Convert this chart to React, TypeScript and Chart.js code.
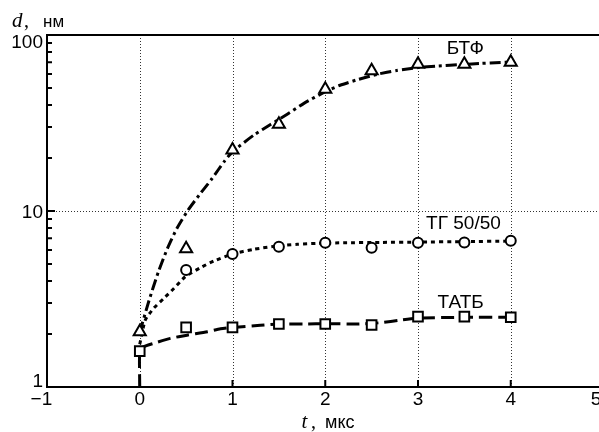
import React, { useEffect, useRef } from "react";
import { Chart, registerables } from "chart.js";

Chart.register(...registerables);

// ---- measured data (t, мкс ; d, нм) ----
const btfT = [0, 0.5, 1, 1.5, 2, 2.5, 3, 3.5, 4];
const btfD = [2.06, 6.1, 22.2, 31.1, 49.1, 62.7, 68.2, 68.2, 70.0];

const tgT = [0.5, 1, 1.5, 2, 2.5, 3, 3.5, 4];
const tgD = [4.62, 5.7, 6.27, 6.61, 6.19, 6.61, 6.63, 6.78];

const tatbT = [0, 0.5, 1, 1.5, 2, 2.5, 3, 3.5, 4];
const tatbD = [1.6, 2.18, 2.18, 2.28, 2.28, 2.25, 2.51, 2.51, 2.49];

// ---- fitted curves ----
const btfFitT = [0, 0.1, 0.2, 0.3, 0.4, 0.52, 0.64, 0.78, 0.91, 1.0, 1.23, 1.41, 1.59, 1.77, 2.0, 2.16, 2.36, 2.56, 2.77, 3.0, 3.2, 3.49, 3.67, 3.89, 4.0];
const btfFitD = [2.05, 3.1, 4.5, 6.15, 7.95, 10.1, 12.3, 15.3, 19.1, 21.7, 27.0, 31.0, 35.5, 40.9, 47.6, 51.8, 56.0, 59.8, 62.9, 65.3, 66.6, 68.0, 68.9, 69.8, 70.2];

const tgFitT = [0, 0.06, 0.15, 0.26, 0.37, 0.49, 0.65, 0.8, 1.0, 1.23, 1.48, 1.7, 1.91, 2.2, 2.6, 3.0, 3.5, 4.0];
const tgFitD = [1.75, 2.4, 2.8, 3.19, 3.64, 4.23, 4.75, 5.2, 5.7, 6.06, 6.33, 6.47, 6.55, 6.6, 6.63, 6.66, 6.7, 6.75];

const tatbFitT = [0, 0, 0.04, 0.15, 0.33, 0.51, 0.73, 0.87, 1.0, 1.3, 1.5, 1.8, 2.0, 2.34, 2.6, 2.81, 3.0, 3.5, 4.0];
const tatbFitD = [1, 1.6, 1.69, 1.77, 1.89, 1.97, 2.06, 2.14, 2.18, 2.24, 2.28, 2.28, 2.29, 2.28, 2.32, 2.4, 2.46, 2.49, 2.49];

// ---- axes ----
const xTicks = [-1, 0, 1, 2, 3, 4, 5];
const xGrid = [0, 1, 2, 3, 4];
const yTicks = [1, 10, 100];
const yGrid = [10];
const yMinor = [2, 3, 4, 5, 6, 7, 8, 9, 20, 30, 40, 50, 60, 70, 80, 90];

const seriesNames = ["БТФ", "ТГ 50/50", "ТАТБ"];

const pts = (xs: number[], ys: number[]) => xs.map((x, i) => ({ x, y: ys[i] }));

const SANS = '"Liberation Sans", Arial, Helvetica, sans-serif';
const SERIF = '"Liberation Serif", "Times New Roman", serif';

const overlay = {
  id: "overlay",
  beforeDatasetsDraw(chart: any) {
    const { ctx, chartArea: a, scales } = chart;
    const x = scales.x, y = scales.y;
    ctx.save();
    ctx.strokeStyle = "#333";
    ctx.lineWidth = 1;
    ctx.setLineDash([1, 2]);
    for (const v of xGrid) {
      const px = Math.round(x.getPixelForValue(v)) + 0.5;
      ctx.beginPath();
      ctx.moveTo(px, a.top);
      ctx.lineTo(px, a.bottom);
      ctx.stroke();
    }
    for (const v of yGrid) {
      const py = Math.round(y.getPixelForValue(v)) + 0.5;
      ctx.beginPath();
      ctx.moveTo(a.left, py);
      ctx.lineTo(a.right, py);
      ctx.stroke();
    }
    ctx.restore();
  },
  afterDatasetsDraw(chart: any) {
    const { ctx, chartArea: a, scales } = chart;
    const x = scales.x, y = scales.y;
    ctx.save();
    ctx.strokeStyle = "#000";
    ctx.fillStyle = "#000";
    ctx.lineWidth = 2;
    ctx.setLineDash([]);
    // frame
    ctx.strokeRect(a.left, a.top, a.right - a.left, a.bottom - a.top);
    // y ticks (inside, left)
    ctx.beginPath();
    for (const v of yMinor) {
      const py = y.getPixelForValue(v);
      ctx.moveTo(a.left, py);
      ctx.lineTo(a.left + 5, py);
    }
    for (const v of yTicks) {
      const py = y.getPixelForValue(v);
      ctx.moveTo(a.left, py);
      ctx.lineTo(a.left + 8, py);
    }
    // x ticks (inside)
    for (const v of xTicks) {
      const px = x.getPixelForValue(v);
      ctx.moveTo(px, a.bottom);
      ctx.lineTo(px, a.bottom - 7);
    }
    ctx.stroke();

    // tick labels
    ctx.font = `19px ${SANS}`;
    ctx.textBaseline = "middle";
    ctx.textAlign = "right";
    const h = a.bottom - a.top;
    for (const v of yTicks) {
      const py = y.getPixelForValue(v);
      const ly = py + 8 - (13 * (py - a.top)) / h;
      ctx.fillText(String(v), a.left - 4, ly);
    }
    for (const v of xTicks) {
      const px = Math.min(x.getPixelForValue(v), 596);
      const digits = String(Math.abs(v));
      const txt = v < 0 ? "\u2212" + digits : digits;
      const w = ctx.measureText(digits).width;
      ctx.fillText(txt, px + w / 2, a.bottom + 12.5);
    }

    // series labels
    ctx.textAlign = "center";
    const lab = [
      [3.51, 83.3],
      [3.49, 8.44],
      [3.46, 3.02],
    ];
    seriesNames.forEach((n, i) => {
      ctx.fillText(n, x.getPixelForValue(lab[i][0]), y.getPixelForValue(lab[i][1]));
    });

    // axis titles
    ctx.textBaseline = "alphabetic";
    ctx.textAlign = "left";
    ctx.font = `italic 21px ${SERIF}`;
    ctx.fillText("d", 12, 26.5);
    ctx.font = `20px ${SERIF}`;
    ctx.fillText(",", 24, 26.5);
    ctx.font = `17px ${SANS}`;
    ctx.fillText("нм", 43, 26.5);

    ctx.font = `italic 21px ${SERIF}`;
    ctx.fillText("t", 301.5, 428);
    ctx.font = `20px ${SERIF}`;
    ctx.fillText(",", 311, 428);
    ctx.font = `18px ${SANS}`;
    ctx.fillText("мкс", 325, 428);
    ctx.restore();
  },
};

export default function App() {
  const ref = useRef<HTMLCanvasElement | null>(null);

  useEffect(() => {
    document.body.style.margin = "0";
    const canvas = ref.current;
    if (!canvas) return;
    const W = 640;
    const marker = (style: string, r: number) => ({
      showLine: false,
      pointStyle: style,
      pointRadius: r,
      pointHoverRadius: r,
      pointBorderWidth: 2,
      pointBorderColor: "#000",
      pointBackgroundColor: "#fff",
      borderColor: "#000",
      backgroundColor: "#fff",
      order: 0,
    });
    const fit = (dash: number[]) => ({
      showLine: true,
      borderColor: "#000",
      borderWidth: 3,
      borderDash: dash,
      borderCapStyle: "butt",
      pointRadius: 0,
      pointHoverRadius: 0,
      tension: 0.2,
      fill: false,
      order: 1,
    });
    const chart = new Chart(canvas, {
      type: "line",
      data: {
        datasets: [
          { label: seriesNames[0], data: pts(btfT, btfD), ...marker("triangle", 7) },
          { label: seriesNames[1], data: pts(tgT, tgD), ...marker("circle", 5) },
          { label: seriesNames[2], data: pts(tatbT, tatbD), ...marker("rect", 6.8) },
          { label: seriesNames[0] + " fit", data: pts(btfFitT, btfFitD), ...fit([11, 4, 3, 4]) },
          { label: seriesNames[1] + " fit", data: pts(tgFitT, tgFitD), ...fit([4, 4]) },
          { label: seriesNames[2] + " fit", data: pts(tatbFitT, tatbFitD), ...fit([13, 6]) },
        ] as any,
      },
      options: {
        responsive: false,
        maintainAspectRatio: false,
        animation: false,
        devicePixelRatio: 1,
        layout: { padding: { left: 47, top: 35, right: W - 603.5, bottom: 45 } },
        plugins: { legend: { display: false }, tooltip: { enabled: false } },
        scales: {
          x: { type: "linear", min: -1, max: 5, display: false },
          y: { type: "logarithmic", min: 1, max: 100, display: false },
        },
      } as any,
      plugins: [overlay],
    });
    return () => chart.destroy();
  }, []);

  return (
    <div style={{ width: 599, height: 432, overflow: "hidden", background: "#fff" }}>
      <canvas ref={ref} width={640} height={432} style={{ display: "block", width: 640, height: 432 }} />
    </div>
  );
}
